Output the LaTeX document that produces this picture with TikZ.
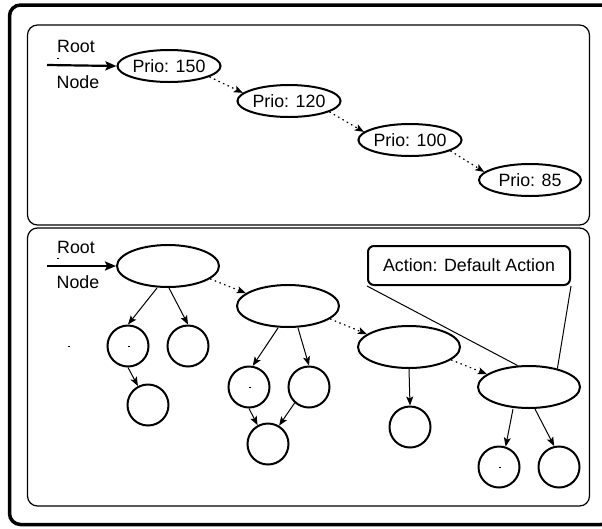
\documentclass[tikz,border=0pt]{standalone}
\usepackage{fontspec}
\setmainfont{Liberation Sans}
\usetikzlibrary{shapes.geometric,arrows.meta}
\begin{document}
\begin{tikzpicture}[x=1pt,y=-1pt,
  every node/.style={font=\fontsize{17.8}{20}\selectfont, inner sep=0pt},
  prio/.style={ellipse, draw, line width=2pt, minimum width=102pt, minimum height=32pt},
  big/.style={ellipse, draw, line width=2pt, minimum width=102pt, minimum height=42pt},
  leaf/.style={circle, draw, line width=2pt, minimum size=41pt},
  lbl/.style={},
  panel/.style={draw, line width=1.2pt, rounded corners=10pt},
  treearrow/.style={line width=1pt, -{Stealth[length=9pt,width=7pt,inset=2pt]}},
  nextarrow/.style={line width=1.2pt, dash pattern=on 1.5pt off 3.5pt, -{Stealth[length=9pt,width=7pt,inset=2pt]}},
  rootarrow/.style={line width=2.2pt, -{Stealth[length=11pt,width=9pt,inset=2pt]}},
  callout/.style={draw, line width=2pt, rounded corners=6pt, minimum width=202pt, minimum height=39pt},
  speck/.style={fill=black}
]
\useasboundingbox (0,0) rectangle (602,528);
% outer frame
\draw[line width=3.5pt, rounded corners=11pt] (9.5,5) rectangle (612,524.5);
% panels
\draw[panel] (27.5,25) rectangle (589.5,225);
\draw[panel] (27.5,228) rectangle (589.5,506);

% ---------- top panel ----------
\node[lbl] (rootT) at (76,46) {Root};
\node[lbl] (nodeT) at (78,82) {Node};
\coordinate (startT) at (47,65);
\node[prio] (p150) at (169,66) {Prio: 150};
\node[prio] (p120) at (289,101) {Prio: 120};
\node[prio] (p100) at (410,140) {Prio: 100};
\node[prio] (p85) at (530,180) {Prio: 85};
\draw[rootarrow] (startT) -- (p150.west);
\draw[nextarrow] (p150.-15) -- (p120.170);
\draw[nextarrow] (p120.-15) -- (p100.170);
\draw[nextarrow] (p100.-15) -- (p85.170);
\fill[speck] (56.5,57.5) rectangle (58.5,58.7);

% ---------- bottom panel ----------
\node[lbl] (rootB) at (76,247) {Root};
\node[lbl] (nodeB) at (78,282) {Node};
\coordinate (startB) at (47,266);
\node[big] (A) at (168,266) {};
\node[big] (B) at (288,306) {};
\node[big] (C) at (409,347) {};
\node[big] (D) at (529,387) {};
\node[leaf] (c1) at (128,346) {};
\node[leaf] (c2) at (188,346) {};
\node[leaf] (c3) at (148,405) {};
\node[leaf] (c4) at (249,387) {};
\node[leaf] (c5) at (309,387) {};
\node[leaf] (c6) at (268,444) {};
\node[leaf] (c7) at (410,427) {};
\node[leaf] (c8) at (499,467) {};
\node[leaf] (c9) at (559,467) {};
\node[callout] (act) at (469,265.5) {Action: Default Action};

\draw[rootarrow] (startB) -- (A.west);
\draw[nextarrow] (A.-17) -- (B.163);
\draw[nextarrow] (B.-17) -- (C.163);
\draw[nextarrow] (C.-17) -- (D.163);

\draw[treearrow] ([xshift=-11pt]A.south) -- (c1.north);
\draw[treearrow] ([xshift=1pt]A.south) -- (c2.north);
\draw[treearrow] (c1.south) -- (c3.118);
\draw[treearrow] ([xshift=-10pt]B.south) -- (c4.80);
\draw[treearrow] ([xshift=10pt]B.south) -- (c5.north);
\draw[treearrow] (c4.south) -- (c6.119);
\draw[treearrow] (c5.228) -- (c6.59);
\draw[treearrow] (C.south) -- (c7.north);
\draw[treearrow] ([xshift=-16pt]D.south) -- (c8.72);
\draw[treearrow] ([xshift=6pt]D.south) -- (c9.103);

\draw[line width=1pt] (act.south west) -- (D.118);
\draw[line width=1pt] (act.south east) -- (D.33);

\fill[speck] (56.5,257.5) rectangle (58.5,258.7);
\fill[speck] (67.5,345.5) rectangle (69.5,346.7);
\fill[speck] (127.5,345.5) rectangle (129.5,346.7);
\fill[speck] (248.5,386.5) rectangle (250.5,387.7);
\fill[speck] (498.5,466.5) rectangle (500.5,467.7);
\end{tikzpicture}
\end{document}
